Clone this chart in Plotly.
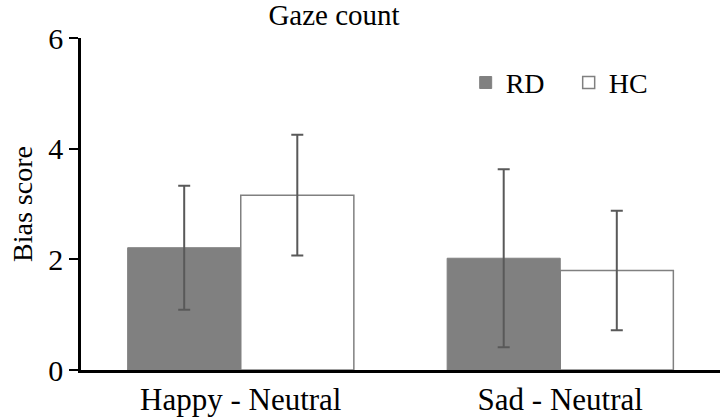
import plotly.graph_objects as go

categories = ["Happy - Neutral", "Sad - Neutral"]
rd_values = [2.21, 2.02]
rd_errors = [1.12, 1.61]
hc_values = [3.16, 1.80]
hc_errors = [1.09, 1.08]
y_ticks = [0, 2, 4, 6]

FONT = "Liberation Serif"

fig = go.Figure()
fig.add_trace(go.Bar(
    name="RD", x=categories, y=rd_values,
    marker=dict(color="#808080", line=dict(color="#808080", width=1)),
    error_y=dict(type="data", array=rd_errors, color="#595959", thickness=2, width=6),
))
fig.add_trace(go.Bar(
    name="HC", x=categories, y=hc_values,
    marker=dict(color="#ffffff", line=dict(color="#808080", width=1.5)),
    error_y=dict(type="data", array=hc_errors, color="#595959", thickness=2, width=6),
))

fig.update_layout(
    width=724, height=420,
    margin=dict(l=81, r=4, t=38, b=50),
    paper_bgcolor="white", plot_bgcolor="white",
    barmode="group", bargap=0.292, bargroupgap=0,
    font=dict(family=FONT, color="#000000", size=28),
    title=dict(text="Gaze count", x=334/724, xanchor="center", xref="container",
               y=0.99, yanchor="top", yref="container", automargin=False,
               font=dict(family=FONT, size=29, color="#000000")),
    legend=dict(orientation="h", x=0.602, xanchor="left", y=0.865, yanchor="middle",
                font=dict(family=FONT, size=28, color="#000000"),
                bgcolor="rgba(0,0,0,0)", itemwidth=30, traceorder="normal",
                entrywidth=58, entrywidthmode="pixels"),
    showlegend=True,
)
fig.update_xaxes(
    showline=True, linecolor="#000000", linewidth=2.5, ticks="",
    showgrid=False, zeroline=False, automargin=False,
    tickfont=dict(family=FONT, size=31, color="#000000"),
)
fig.update_yaxes(
    range=[0, 6], tickvals=y_ticks, ticktext=[str(v) for v in y_ticks],
    showline=True, linecolor="#000000", linewidth=2.5,
    ticks="outside", ticklen=9, tickwidth=2, tickcolor="#000000",
    showgrid=False, zeroline=False, automargin=False,
    tickfont=dict(family=FONT, size=30, color="#000000"),
    title=dict(text="Bias score", standoff=8, font=dict(family=FONT, size=28, color="#000000")),
)

fig.write_html(
    "out.html",
    config={"displayModeBar": False},
    post_script="document.body.style.margin='0';document.body.style.overflow='hidden';",
)
